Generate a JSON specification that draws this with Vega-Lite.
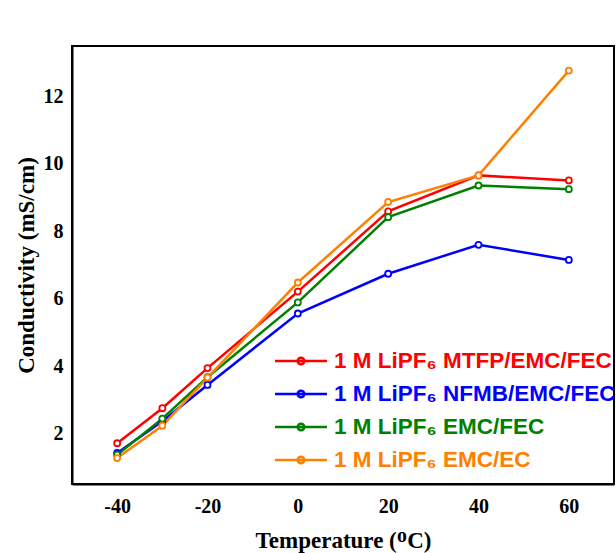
{
  "$schema": "https://vega.github.io/schema/vega-lite/v6.json",
  "width": 542,
  "height": 438,
  "autosize": {"type": "none"},
  "padding": {"left": 72, "top": 46, "right": 2, "bottom": 69},
  "background": "white",
  "config": {
    "view": {"stroke": "black", "strokeWidth": 2},
    "axis": {
      "domainColor": "black",
      "domainWidth": 2,
      "labelFont": "Liberation Serif",
      "labelFontWeight": "bold",
      "labelFontSize": 20,
      "labelColor": "black",
      "titleFont": "Liberation Serif",
      "titleFontWeight": "bold",
      "titleFontSize": 23,
      "titleColor": "black",
      "grid": false,
      "labelOverlap": false,
      "labelFlush": false,
      "zindex": 1
    }
  },
  "data": {
    "values": [
      {"series": "1 M LiPF₆ MTFP/EMC/FEC", "T": -40, "sigma": 1.71},
      {"series": "1 M LiPF₆ MTFP/EMC/FEC", "T": -30, "sigma": 2.75},
      {"series": "1 M LiPF₆ MTFP/EMC/FEC", "T": -20, "sigma": 3.94},
      {"series": "1 M LiPF₆ MTFP/EMC/FEC", "T": 0, "sigma": 6.21},
      {"series": "1 M LiPF₆ MTFP/EMC/FEC", "T": 20, "sigma": 8.59},
      {"series": "1 M LiPF₆ MTFP/EMC/FEC", "T": 40, "sigma": 9.66},
      {"series": "1 M LiPF₆ MTFP/EMC/FEC", "T": 60, "sigma": 9.51},
      {"series": "1 M LiPF₆ NFMB/EMC/FEC", "T": -40, "sigma": 1.42},
      {"series": "1 M LiPF₆ NFMB/EMC/FEC", "T": -30, "sigma": 2.36},
      {"series": "1 M LiPF₆ NFMB/EMC/FEC", "T": -20, "sigma": 3.44},
      {"series": "1 M LiPF₆ NFMB/EMC/FEC", "T": 0, "sigma": 5.56},
      {"series": "1 M LiPF₆ NFMB/EMC/FEC", "T": 20, "sigma": 6.74},
      {"series": "1 M LiPF₆ NFMB/EMC/FEC", "T": 40, "sigma": 7.6},
      {"series": "1 M LiPF₆ NFMB/EMC/FEC", "T": 60, "sigma": 7.15},
      {"series": "1 M LiPF₆ EMC/FEC", "T": -40, "sigma": 1.37},
      {"series": "1 M LiPF₆ EMC/FEC", "T": -30, "sigma": 2.44},
      {"series": "1 M LiPF₆ EMC/FEC", "T": -20, "sigma": 3.67},
      {"series": "1 M LiPF₆ EMC/FEC", "T": 0, "sigma": 5.89},
      {"series": "1 M LiPF₆ EMC/FEC", "T": 20, "sigma": 8.42},
      {"series": "1 M LiPF₆ EMC/FEC", "T": 40, "sigma": 9.36},
      {"series": "1 M LiPF₆ EMC/FEC", "T": 60, "sigma": 9.25},
      {"series": "1 M LiPF₆ EMC/EC", "T": -40, "sigma": 1.27},
      {"series": "1 M LiPF₆ EMC/EC", "T": -30, "sigma": 2.23},
      {"series": "1 M LiPF₆ EMC/EC", "T": -20, "sigma": 3.66},
      {"series": "1 M LiPF₆ EMC/EC", "T": 0, "sigma": 6.48},
      {"series": "1 M LiPF₆ EMC/EC", "T": 20, "sigma": 8.87},
      {"series": "1 M LiPF₆ EMC/EC", "T": 40, "sigma": 9.66},
      {"series": "1 M LiPF₆ EMC/EC", "T": 60, "sigma": 12.77}
    ]
  },
  "encoding": {
    "x": {
      "field": "T",
      "type": "quantitative",
      "title": "Temperature (ᴼC)",
      "scale": {"domain": [-50, 70], "nice": false, "zero": false},
      "axis": {
        "values": [-40, -20, 0, 20, 40, 60],
        "labelExpr": "toString(datum.value)",
        "ticks": false,
        "labelPadding": 12,
        "titlePadding": 13
      }
    },
    "y": {
      "field": "sigma",
      "type": "quantitative",
      "title": "Conductivity (mS/cm)",
      "scale": {"domain": [0.5, 13.5], "nice": false, "zero": false},
      "axis": {
        "values": [2, 4, 6, 8, 10, 12],
        "labelExpr": "toString(datum.value)",
        "ticks": false,
        "labelPadding": 9,
        "titlePadding": 5
      }
    },
    "color": {
      "field": "series",
      "type": "nominal",
      "scale": {
        "domain": ["1 M LiPF₆ MTFP/EMC/FEC", "1 M LiPF₆ NFMB/EMC/FEC", "1 M LiPF₆ EMC/FEC", "1 M LiPF₆ EMC/EC"],
        "range": ["#ff0000", "#0000ff", "#008000", "#ff8000"]
      },
      "legend": {
        "title": null,
        "orient": "none",
        "legendX": 217,
        "legendY": 303,
        "padding": 0,
        "symbolType": "M-2.5,0H2.5M0.32,0A0.32,0.32,0,1,1,-0.32,0A0.32,0.32,0,1,1,0.32,0Z",
        "symbolSize": 432,
        "symbolStrokeWidth": 2.5,
        "labelOffset": 21,
        "rowPadding": 9,
        "labelFont": "Liberation Sans",
        "labelFontWeight": "bold",
        "labelFontSize": 22.5,
        "labelLimit": 0,
        "labelColor": {"expr": "scale('color', datum.value)"}
      }
    }
  },
  "layer": [
    {"mark": {"type": "line", "strokeWidth": 2.5}},
    {"mark": {"type": "point", "shape": "circle", "filled": false, "fill": "white", "size": 36, "strokeWidth": 1.8, "opacity": 1}}
  ]
}
